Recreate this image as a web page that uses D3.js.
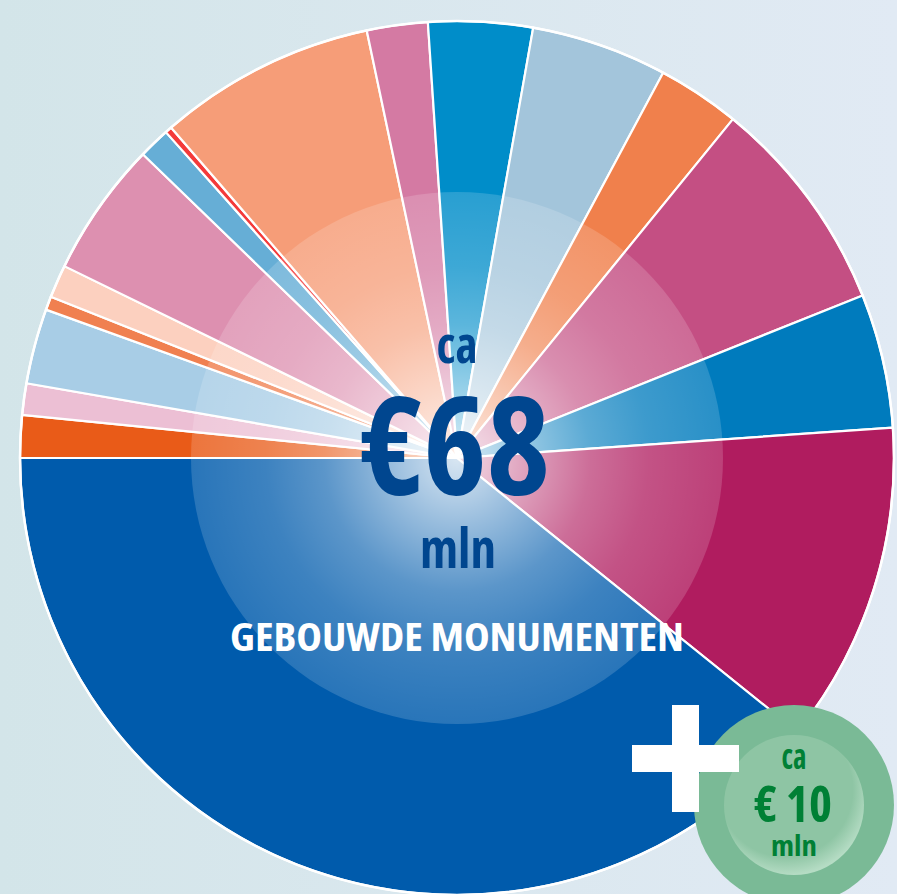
<!DOCTYPE html>
<html><head><meta charset="utf-8">
<script src="https://cdn.jsdelivr.net/npm/d3@7"></script>
<style>
html,body{margin:0;padding:0;overflow:hidden;background:#dde8f0;}
svg{display:block;}
text{font-family:"Open Sans","Liberation Sans Narrow",sans-serif;font-weight:700;font-stretch:75%;}
</style>
</head><body>
<svg id="chart" width="897" height="894"></svg>
<script>
// ---- data (values in € mln) ----
const categories = ["seg01","seg02","seg03","seg04","seg05","seg06","seg07","seg08","seg09",
                    "seg10","seg11","seg12","seg13","seg14","seg15","seg16","gebouwde monumenten"];
const values = [1.07,0.79,1.89,0.34,0.83,3.40,0.79,0.17,5.47,1.53,2.62,3.42,2.08,5.48,3.37,8.09,26.67];
const colors = ["#e95b18","#ecbfd4","#a8cde6","#f08050","#fcd0bf","#dd90b0","#66aed6","#f43a3a","#f69d78",
                "#d47aa3","#008dc9","#a3c5db","#f0804c","#c44f83","#007bbd","#b01c5f","#005bac"];
const totalLabels = ["ca","€68","mln"];
const titleLabel = "GEBOUWDE MONUMENTEN";
const extraLabels = ["ca","€ 10","mln"];

const W = 897, H = 894;
const cx = 457, cy = 458, R = 437, Rin = 266;
const svg = d3.select("#chart");
const defs = svg.append("defs");

// background
const bg = defs.append("linearGradient").attr("id","bg").attr("x1","0").attr("x2","1").attr("y1","0").attr("y2","0");
bg.append("stop").attr("offset","0").attr("stop-color","#d3e5e9");
bg.append("stop").attr("offset","1").attr("stop-color","#e1eaf4");
svg.append("rect").attr("width",W).attr("height",H).attr("fill","url(#bg)");

// inner glow
const glow = defs.append("radialGradient").attr("id","glow").attr("cx","0.5").attr("cy","0.5").attr("r","0.5");
[[0,0.85],[0.25,0.6],[0.5,0.36],[0.72,0.24],[1,0.16]].forEach(([o,a])=>
  glow.append("stop").attr("offset",o).attr("stop-color","#fff").attr("stop-opacity",a));

const greenGlow = defs.append("radialGradient").attr("id","gglow").attr("cx","0.45").attr("cy","0.4").attr("r","0.6")
  .attr("fx","0.4").attr("fy","0.35");
greenGlow.append("stop").attr("offset","0").attr("stop-color","#8ec5a4");
greenGlow.append("stop").attr("offset","0.8").attr("stop-color","#8ec5a4");
greenGlow.append("stop").attr("offset","1").attr("stop-color","#b5dcc4");

const data = categories.map((c,i)=>({name:c,value:values[i],color:colors[i]}));
const pie = d3.pie().sort(null).value(d=>d.value).startAngle(-Math.PI/2).endAngle(3*Math.PI/2);
const arc = d3.arc().innerRadius(0).outerRadius(R);

const g = svg.append("g").attr("transform",`translate(${cx},${cy})`);
g.selectAll("path.slice").data(pie(data)).join("path")
  .attr("class","slice")
  .attr("d",arc)
  .attr("fill",d=>d.data.color)
  .attr("stroke","#fff").attr("stroke-width",2.2).attr("stroke-linejoin","round");

g.append("circle").attr("r",Rin).attr("fill","url(#glow)");
g.append("circle").attr("r",R).attr("fill","none").attr("stroke","#fff").attr("stroke-width",2.5);

// center labels
const blue = "#00468f";
g.append("text").attr("x",0).attr("y",363-cy).attr("text-anchor","middle").attr("font-size",52).attr("fill",blue)
  .attr("textLength",41).attr("lengthAdjust","spacingAndGlyphs").text(totalLabels[0]);
g.append("text").attr("x",-2).attr("y",495-cy).attr("text-anchor","middle").attr("font-size",137).attr("fill",blue)
  .attr("textLength",190).attr("lengthAdjust","spacingAndGlyphs").text(totalLabels[1]);
g.append("text").attr("x",1).attr("y",568-cy).attr("text-anchor","middle").attr("font-size",56).attr("fill",blue)
  .attr("textLength",76).attr("lengthAdjust","spacingAndGlyphs").text(totalLabels[2]);
g.append("text").attr("x",0).attr("y",651-cy).attr("text-anchor","middle").attr("font-size",40).attr("fill","#fff")
  .attr("textLength",454).attr("lengthAdjust","spacingAndGlyphs").text(titleLabel);

// green extra circle
const gx = 794, gy = 805;
const eg = svg.append("g").attr("transform",`translate(${gx},${gy})`);
eg.append("circle").attr("r",100).attr("fill","#7aba96");
eg.append("circle").attr("r",70).attr("fill","url(#gglow)");
const green = "#008035";
eg.append("text").attr("x",0).attr("y",769-gy).attr("text-anchor","middle").attr("font-size",35).attr("fill",green)
  .attr("textLength",25).attr("lengthAdjust","spacingAndGlyphs").text(extraLabels[0]);
eg.append("text").attr("x",-1).attr("y",822-gy).attr("text-anchor","middle").attr("font-size",50).attr("fill",green)
  .attr("textLength",78).attr("lengthAdjust","spacingAndGlyphs").text(extraLabels[1]);
eg.append("text").attr("x",0).attr("y",856-gy).attr("text-anchor","middle").attr("font-size",29).attr("fill",green)
  .attr("textLength",46).attr("lengthAdjust","spacingAndGlyphs").text(extraLabels[2]);

// plus sign
const px = 685.5, py = 758.5, arm = 107, th = 27;
svg.append("rect").attr("x",px-th/2).attr("y",py-arm/2).attr("width",th).attr("height",arm).attr("fill","#fff");
svg.append("rect").attr("x",px-arm/2).attr("y",py-th/2).attr("width",arm).attr("height",th).attr("fill","#fff");
</script>
</body></html>
